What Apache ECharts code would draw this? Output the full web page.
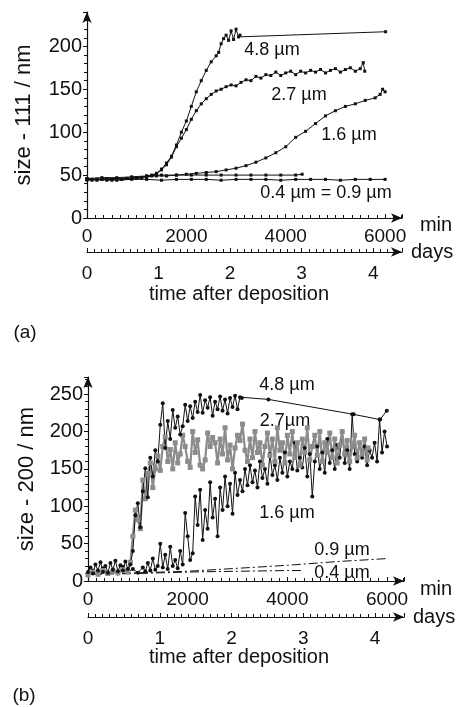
<!DOCTYPE html>
<html>
<head>
<meta charset="utf-8">
<script src="https://cdn.jsdelivr.net/npm/echarts@6/dist/echarts.min.js"></script>
<style>
  html, body { margin: 0; padding: 0; background: #fff; }
  #chart { width: 461px; height: 707px; }
</style>
</head>
<body>
<div id="chart"></div>
<script>
// panel (a): size - 111 (nm) vs time (min)
const aTime48 = [0, 100, 200, 300, 400, 500, 600, 700, 800, 900, 1000, 1100, 1200, 1300, 1400, 1500, 1600, 1700, 1800, 1900, 2000, 2100, 2200, 2300, 2400, 2500, 2600, 2650, 2700, 2750, 2800, 2850, 2900, 2950, 3000, 3050, 3080, 6010]
const aSize48 = [45, 44, 45, 45, 44, 45, 46, 45, 46, 46, 47, 47, 48, 49, 52, 57, 64, 72, 85, 100, 113, 130, 147, 160, 172, 182, 189, 193, 203, 209, 213, 207, 218, 208, 220, 211, 213, 217]

const aTime27 = [0, 100, 200, 300, 400, 500, 600, 700, 800, 900, 1000, 1100, 1200, 1300, 1400, 1500, 1600, 1700, 1800, 1900, 2000, 2100, 2200, 2300, 2400, 2500, 2600, 2700, 2800, 2900, 3000, 3100, 3200, 3300, 3400, 3500, 3600, 3700, 3800, 3900, 4000, 4100, 4200, 4300, 4400, 4500, 4600, 4700, 4800, 4900, 5000, 5100, 5200, 5300, 5400, 5500, 5560, 5590]
const aSize27 = [44, 45, 44, 45, 45, 44, 46, 45, 46, 47, 46, 47, 49, 50, 52, 56, 62, 71, 83, 93, 103, 115, 125, 133, 139, 144, 148, 150, 153, 155, 154, 158, 161, 160, 165, 163, 167, 166, 170, 166, 169, 171, 167, 171, 169, 172, 170, 173, 169, 172, 174, 170, 173, 175, 171, 174, 181, 171]

const aTime16 = [0, 200, 400, 600, 800, 1000, 1200, 1400, 1600, 1800, 2000, 2200, 2400, 2600, 2800, 3000, 3200, 3400, 3600, 3800, 4000, 4200, 4400, 4600, 4800, 5000, 5200, 5400, 5600, 5800, 5900, 5950, 6000]
const aSize16 = [46, 45, 46, 46, 46, 47, 48, 49, 49, 50, 51, 52, 53, 54, 56, 58, 61, 65, 70, 76, 83, 94, 101, 110, 119, 125, 130, 133, 137, 140, 144, 150, 147]

const aTime09 = [0, 300, 600, 900, 1200, 1500, 1800, 2100, 2400, 2700, 3000, 3300, 3600, 3900, 4200, 4330]
const aSize09 = [46, 47, 47, 48, 49, 50, 50, 50, 50, 50, 50, 50, 50, 50, 50, 51]

const aTime04 = [0, 300, 600, 900, 1200, 1500, 1800, 2100, 2400, 2700, 3000, 3300, 3600, 3900, 4200, 4500, 4800, 5100, 5400, 5700, 6000]
const aSize04 = [45, 45, 44, 45, 45, 44, 45, 45, 45, 44, 45, 45, 45, 44, 45, 45, 45, 44, 45, 45, 45]

// panel (b): size - 200 (nm) vs time (min)
const bTime48 = [0, 50, 100, 150, 200, 250, 300, 350, 400, 450, 500, 550, 600, 650, 700, 750, 800, 850, 900, 950,
  1000, 1050, 1100, 1150, 1200, 1250, 1300, 1350, 1400, 1450, 1500, 1550, 1600, 1650, 1700, 1750, 1800, 1850, 1900, 1950,
  2000, 2050, 2100, 2150, 2200, 2250, 2300, 2350, 2400, 2450, 2500, 2550, 2600, 2650, 2700, 2750, 2800, 2850, 2900, 2950,
  3000, 3050, 3085, 3620, 5330, 5860, 5995]
const bSize48 = [12, 18, 10, 22, 14, 25, 12, 20, 11, 24, 15, 27, 13, 21, 14, 26, 16, 22, 40, 88,
  104, 72, 120, 151, 112, 165, 140, 175, 160, 209, 238, 178, 214, 190, 229, 205, 220, 196, 207, 236,
  214, 234, 218, 240, 226, 249, 225, 242, 232, 246, 221, 240, 230, 247, 228, 243, 224, 245, 233, 248,
  230, 246, 245, 243, 223, 216, 228]

const bTime27 = [0, 100, 200, 300, 400, 500, 600, 700, 800,
  850, 900, 950, 1000, 1050, 1100, 1150, 1200, 1250, 1300, 1350, 1400, 1450, 1500, 1550, 1600, 1650, 1700, 1750, 1800,
  1850, 1900, 1950, 2000, 2050, 2100, 2150, 2200, 2250, 2300, 2350, 2400, 2450, 2500, 2550, 2600, 2650, 2700, 2750, 2800,
  2850, 2900, 2950, 3000, 3050, 3100, 3150, 3200, 3250, 3300, 3350, 3400, 3450, 3500, 3550, 3600, 3650, 3700, 3750, 3800,
  3850, 3900, 3950, 4000, 4050, 4100, 4150, 4200, 4250, 4300, 4350, 4400, 4450, 4500, 4550, 4600, 4650, 4700, 4750, 4800,
  4850, 4900, 4950, 5000, 5050, 5100, 5150, 5200, 5250, 5300, 5350, 5400, 5450, 5500, 5550, 5600, 5620]
const bSize27 = [8, 12, 9, 14, 10, 13, 11, 15, 12,
  25, 60, 95, 82, 70, 135, 110, 144, 158, 125, 150, 167, 148, 180, 193, 160, 176, 150, 185, 158,
  170, 195, 180, 160, 152, 200, 172, 189, 155, 150, 162, 198, 180, 192, 185, 158, 190, 170, 205, 162,
  182, 150, 178, 195, 188, 210, 175, 160, 190, 165, 200, 172, 185, 155, 180, 198, 168, 190, 160, 205,
  175, 185, 158, 195, 170, 200, 165, 185, 155, 190, 172, 205, 162, 180, 195, 168, 200, 160, 185, 172,
  198, 165, 190, 158, 182, 200, 170, 188, 160, 180, 195, 165, 185, 170, 190, 162, 178]

const bTime16 = [0, 100, 200, 300, 400, 500, 600, 700, 800, 900, 1000, 1100,
  1150, 1200, 1250, 1300, 1350, 1400, 1450, 1500, 1550, 1600, 1650, 1700, 1750, 1800, 1850, 1900, 1950, 2000, 2050, 2100,
  2150, 2200, 2250, 2300, 2350, 2400, 2450, 2500, 2550, 2600, 2650, 2700, 2750, 2800, 2850, 2900, 2950, 3000, 3050, 3100,
  3150, 3200, 3250, 3300, 3350, 3400, 3450, 3500, 3550, 3600, 3650, 3700, 3750, 3800, 3850, 3900, 3950, 4000, 4050, 4100,
  4150, 4200, 4250, 4300, 4350, 4400, 4450, 4500, 4550, 4600, 4650, 4700, 4750, 4800, 4850, 4900, 4950, 5000, 5050, 5100,
  5150, 5200, 5250, 5300, 5350, 5400, 5450, 5500, 5550, 5600, 5650, 5700, 5750, 5800, 5850, 5900, 5950, 6000]
const bSize16 = [10, 14, 9, 17, 11, 15, 10, 19, 12, 16, 11, 18,
  13, 24, 14, 30, 15, 20, 50, 18, 35, 16, 46, 20, 28, 17, 40, 22, 91, 60, 28, 37,
  113, 75, 122, 55, 95, 70, 132, 85, 110, 60, 125, 95, 140, 100, 130, 90, 145, 115, 135, 120,
  150, 128, 155, 132, 148, 125, 160, 138, 150, 130, 170, 142, 155, 135, 165, 145, 172, 140, 160, 150,
  185, 148, 165, 152, 178, 140, 170, 113, 160, 180, 150, 172, 145, 190, 158, 175, 150, 182, 165, 200,
  158, 175, 150, 223, 170, 160, 185, 165, 180, 155, 175, 165, 185, 160, 216, 172, 200, 180]

const bTime09 = [0, 1000, 2000, 3000, 4000, 5000, 6000]
const bSize09 = [9, 11, 13, 17, 21, 26, 30]
const bTime04 = [0, 1000, 2000, 3000, 4000, 4300]
const bSize04 = [9, 10, 12, 13, 14, 14]

const minTicks = ['0', '2000', '4000', '6000']
const MIN_MAX = 6340
const DAY_MIN = 1440

const FONT = '"Liberation Sans", Arial, Helvetica, sans-serif'
const BLACK = '#111'
const GRAY = '#8c8c8c'

const pairs = (ts, vs) => ts.map((t, i) => [t, vs[i]])

function minAxis(gridIndex) {
  return {
    type: 'value', gridIndex, min: 0, max: MIN_MAX, interval: 2000,
    axisLine: { onZero: false, symbol: ['none', 'arrow'], symbolSize: [7, 11], lineStyle: { color: BLACK, width: 1.2 } },
    axisTick: { inside: true, length: 4, lineStyle: { color: BLACK } },
    minorTick: { show: true, splitNumber: 12, length: 3, lineStyle: { color: BLACK } },
    axisLabel: {
      showMaxLabel: false, margin: 9, fontFamily: FONT, fontSize: 19, color: BLACK,
      formatter: (v) => minTicks.includes(String(v)) ? String(v) : '',
    },
    splitLine: { show: false },
  }
}

function dayAxis(gridIndex, offset) {
  return {
    type: 'value', gridIndex, position: 'bottom', offset, min: 0, max: MIN_MAX / DAY_MIN, interval: 1,
    name: 'days', nameLocation: 'end', nameGap: 9,
    nameTextStyle: { fontFamily: FONT, fontSize: 20, color: BLACK },
    axisLine: { onZero: false, symbol: ['none', 'arrow'], symbolSize: [7, 11], lineStyle: { color: BLACK, width: 1.2 } },
    axisTick: { inside: true, length: 4, lineStyle: { color: BLACK } },
    minorTick: { show: true, splitNumber: 10, length: 3, lineStyle: { color: BLACK } },
    axisLabel: {
      showMaxLabel: false, margin: 12, fontFamily: FONT, fontSize: 19, color: BLACK,
      formatter: (v) => Number.isInteger(v) ? String(v) : '',
    },
    splitLine: { show: false },
  }
}

function sizeAxis(gridIndex, max, title, gap) {
  return {
    type: 'value', gridIndex, min: 0, max, interval: 50,
    name: title, nameLocation: 'middle', nameGap: gap,
    nameTextStyle: { fontFamily: FONT, fontSize: 22, color: BLACK },
    axisLine: { symbol: ['none', 'arrow'], symbolSize: [7, 11], lineStyle: { color: BLACK, width: 1.2 } },
    axisTick: { length: 4, lineStyle: { color: BLACK } },
    minorTick: { show: true, splitNumber: 5, length: 3, lineStyle: { color: BLACK } },
    axisLabel: {
      showMaxLabel: false, margin: 5, fontFamily: FONT, fontSize: 20, color: BLACK,
      formatter: (v) => v % 50 === 0 ? String(v) : '',
    },
    splitLine: { show: false },
  }
}

function curve(name, ts, vs, xi, yi, style) {
  return Object.assign({
    name, type: 'line', xAxisIndex: xi, yAxisIndex: yi,
    data: pairs(ts, vs), animation: false,
    symbol: 'rect', symbolSize: 3,
    itemStyle: { color: BLACK },
    lineStyle: { color: BLACK, width: 1 },
  }, style)
}

const dashDot = { symbol: 'none', lineStyle: { color: BLACK, width: 1, type: [9, 3, 2, 3] } }

function label(text, x, y, size) {
  return {
    type: 'text', x, y,
    style: { text, fill: BLACK, font: `${size || 18}px ${FONT}`, textAlign: 'center', textVerticalAlign: 'middle' },
  }
}

const chart = echarts.init(document.getElementById('chart'), null, { renderer: 'canvas' })
chart.setOption({
  backgroundColor: '#fff',
  animation: false,
  grid: [
    { left: 87, top: 12, width: 315, height: 206, outerBoundsMode: 'none' },
    { left: 88, top: 377, width: 316, height: 204, outerBoundsMode: 'none' },
  ],
  xAxis: [
    minAxis(0),
    dayAxis(0, 34),
    minAxis(1),
    dayAxis(1, 36),
  ],
  yAxis: [
    sizeAxis(0, 240, 'size - 111 / nm', 52),
    sizeAxis(1, 273, 'size - 200 / nm', 50),
  ],
  graphic: [
    label('4.8 µm', 272, 50),
    label('2.7 µm', 299, 95),
    label('1.6 µm', 349, 135),
    label('0.4 µm = 0.9 µm', 326, 193),
    label('min', 436, 225, 20),
    label('time after deposition', 239, 294, 20),
    label('(a)', 25, 333, 19),
    label('4.8 µm', 287, 385),
    label('2.7µm', 285, 421),
    label('1.6 µm', 287, 513),
    label('0.9 µm', 342, 550),
    label('0.4 µm', 342, 573),
    label('min', 436, 589, 20),
    label('time after deposition', 239, 657, 20),
    label('(b)', 24, 696, 19),
  ],
  series: [
    curve('0.4 µm', aTime04, aSize04, 0, 0),
    curve('0.9 µm', aTime09, aSize09, 0, 0),
    curve('1.6 µm', aTime16, aSize16, 0, 0),
    curve('2.7 µm', aTime27, aSize27, 0, 0),
    curve('4.8 µm', aTime48, aSize48, 0, 0),
    curve('0.4 µm', bTime04, bSize04, 2, 1, dashDot),
    curve('0.9 µm', bTime09, bSize09, 2, 1, dashDot),
    curve('1.6 µm', bTime16, bSize16, 2, 1, { symbol: 'circle', symbolSize: 4 }),
    curve('2.7 µm', bTime27, bSize27, 2, 1, {
      symbolSize: 5,
      itemStyle: { color: GRAY },
      lineStyle: { color: GRAY, width: 2.2 },
    }),
    curve('4.8 µm', bTime48, bSize48, 2, 1, { symbol: 'circle', symbolSize: 4 }),
  ],
})
</script>
</body>
</html>
